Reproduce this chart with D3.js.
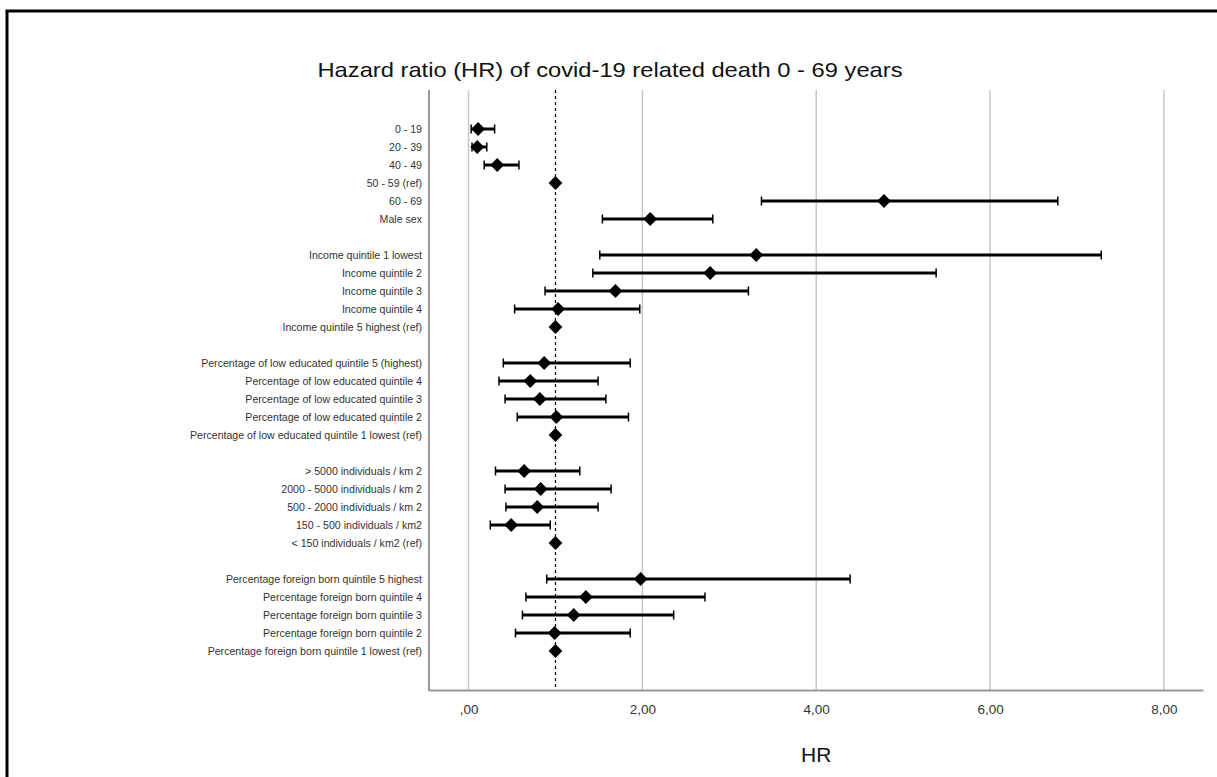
<!DOCTYPE html>
<html>
<head>
<meta charset="utf-8">
<script src="https://cdn.jsdelivr.net/npm/d3@7"></script>
<style>
  html, body { margin: 0; padding: 0; background: #fff; }
  svg { display: block; font-family: "Liberation Sans", Arial, sans-serif; }
</style>
</head>
<body>
<svg id="chart" width="1217" height="777"></svg>
<script>
/* ── Data (blank label = spacer row) ───────────────────── */
const labels = [
  '0 - 19', '20 - 39', '40 - 49', '50 - 59 (ref)', '60 - 69', 'Male sex', '',
  'Income quintile 1 lowest', 'Income quintile 2', 'Income quintile 3',
  'Income quintile 4', 'Income quintile 5 highest (ref)', '',
  'Percentage of low educated quintile 5 (highest)', 'Percentage of low educated quintile 4',
  'Percentage of low educated quintile 3', 'Percentage of low educated quintile 2',
  'Percentage of low educated quintile 1 lowest (ref)', '',
  '> 5000 individuals / km 2', '2000 - 5000 individuals / km 2', '500 - 2000 individuals / km 2',
  '150 - 500 individuals / km2', '< 150 individuals / km2 (ref)', '',
  'Percentage foreign born quintile 5 highest', 'Percentage foreign born quintile 4',
  'Percentage foreign born quintile 3', 'Percentage foreign born quintile 2',
  'Percentage foreign born quintile 1 lowest (ref)'
];
const hr = [0.11, 0.10, 0.33, 1, 4.78, 2.09, null,
            3.31, 2.78, 1.69, 1.03, 1, null,
            0.87, 0.71, 0.82, 1.01, 1, null,
            0.64, 0.83, 0.79, 0.49, 1, null,
            1.98, 1.35, 1.21, 0.99, 1];
const lower = [0.03, 0.04, 0.18, null, 3.37, 1.54, null,
               1.51, 1.43, 0.88, 0.53, null, null,
               0.40, 0.35, 0.42, 0.56, null, null,
               0.31, 0.42, 0.43, 0.25, null, null,
               0.90, 0.66, 0.62, 0.54, null];
const upper = [0.30, 0.21, 0.58, null, 6.78, 2.81, null,
               7.28, 5.38, 3.22, 1.97, null, null,
               1.86, 1.49, 1.58, 1.84, null, null,
               1.28, 1.64, 1.49, 0.94, null, null,
               4.39, 2.72, 2.36, 1.86, null];
const xTicks = [0, 2, 4, 6, 8];

/* ── Layout ────────────────────────────────────────────── */
const svg = d3.select('#chart');
const plot = { left: 429, right: 1203, top: 90, bottom: 690 };

const x = d3.scaleLinear().domain([-0.455, 8.45]).range([plot.left, plot.right]);
const y = d3.scalePoint().domain(d3.range(labels.length)).range([129, 651]);

// outer frame (only top + left visible in the picture)
svg.append('path')
  .attr('d', 'M7,790V11H1220')
  .attr('fill', 'none').attr('stroke', '#000').attr('stroke-width', 3);

svg.append('text')
  .attr('x', 610).attr('y', 77)
  .attr('text-anchor', 'middle')
  .attr('font-size', 21).attr('fill', '#111')
  .attr('textLength', 585).attr('lengthAdjust', 'spacingAndGlyphs')
  .text('Hazard ratio (HR) of covid-19 related death 0 - 69 years');

// grid lines
svg.append('g').selectAll('line').data(xTicks).join('line')
  .attr('x1', d => x(d)).attr('x2', d => x(d))
  .attr('y1', plot.top).attr('y2', plot.bottom)
  .attr('stroke', '#c8c8c8').attr('stroke-width', 1.5);

// reference line at HR = 1
svg.append('line')
  .attr('x1', x(1)).attr('x2', x(1))
  .attr('y1', plot.top).attr('y2', plot.bottom)
  .attr('stroke', '#000').attr('stroke-width', 1.2)
  .attr('stroke-dasharray', '3,3');

// axes
const fmt = d => d === 0 ? ',00' : d.toFixed(2).replace('.', ',');
const xAxis = svg.append('g')
  .attr('transform', `translate(0,${plot.bottom})`)
  .call(d3.axisBottom(x).tickValues(xTicks).tickFormat(fmt).tickSize(0).tickPadding(14));
xAxis.select('.domain').attr('stroke', '#999').attr('stroke-width', 2);
xAxis.selectAll('text')
  .attr('font-family', '"Liberation Sans", Arial, sans-serif')
  .attr('font-size', 13.5).attr('fill', '#333');

svg.append('line')
  .attr('x1', plot.left).attr('x2', plot.left)
  .attr('y1', plot.top).attr('y2', plot.bottom + 1)
  .attr('stroke', '#999').attr('stroke-width', 2);

svg.append('text')
  .attr('x', x(4)).attr('y', 762)
  .attr('text-anchor', 'middle')
  .attr('font-size', 21).attr('fill', '#111')
  .text('HR');

// row labels
svg.append('g').selectAll('text').data(labels).join('text')
  .attr('x', 422).attr('y', (d, i) => y(i))
  .attr('dy', '0.35em')
  .attr('text-anchor', 'end')
  .attr('font-size', 10.6).attr('fill', '#333')
  .text(d => d);

// confidence intervals
const rows = d3.range(labels.length).filter(i => lower[i] != null);
const ci = svg.append('g');
ci.selectAll('line.ci').data(rows).join('line')
  .attr('class', 'ci')
  .attr('x1', i => x(lower[i])).attr('x2', i => x(upper[i]))
  .attr('y1', i => y(i)).attr('y2', i => y(i))
  .attr('stroke', '#000').attr('stroke-width', 3);
['lo', 'hi'].forEach(k => {
  ci.selectAll('line.cap-' + k).data(rows).join('line')
    .attr('class', 'cap-' + k)
    .attr('x1', i => x(k === 'lo' ? lower[i] : upper[i]))
    .attr('x2', i => x(k === 'lo' ? lower[i] : upper[i]))
    .attr('y1', i => y(i) - 4.5).attr('y2', i => y(i) + 4.5)
    .attr('stroke', '#000').attr('stroke-width', 1.5);
});

// point estimates (diamonds)
const diamond = d3.symbol().type(d3.symbolSquare).size(95);
svg.append('g').selectAll('path')
  .data(d3.range(labels.length).filter(i => hr[i] != null))
  .join('path')
  .attr('d', diamond)
  .attr('transform', i => `translate(${x(hr[i])},${y(i)}) rotate(45)`)
  .attr('fill', '#000');
</script>
</body>
</html>
